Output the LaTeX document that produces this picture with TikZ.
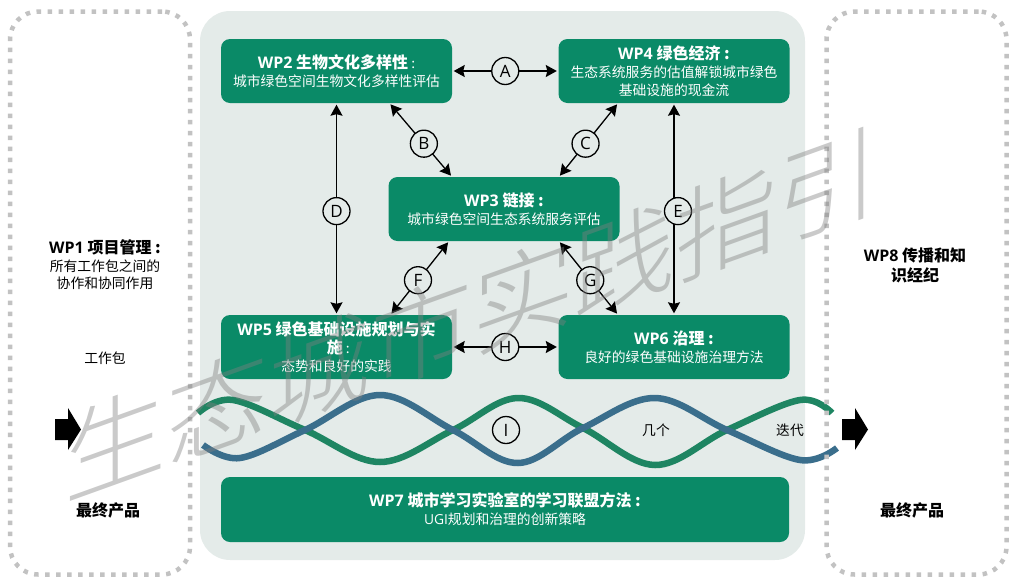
\documentclass[tikz,border=0pt]{standalone}
\usepackage{fontspec}
\setmainfont{Noto Sans CJK SC}
\newfontfamily\markfont{Noto Sans CJK SC Light}
\newfontfamily\latinfont{Open Sans}
\usetikzlibrary{arrows.meta}
\definecolor{panelgray}{HTML}{E4EBE9}
\definecolor{wpgreen}{HTML}{0A8A67}
\definecolor{strandgreen}{HTML}{1E8562}
\definecolor{strandblue}{HTML}{3A6E8C}
\definecolor{dotgray}{HTML}{C2C2C2}
\tikzset{
    wpbox/.style={fill=wpgreen,rounded corners=9pt,text=white,align=center,minimum width=231pt,minimum height=64pt,inner sep=0pt,font=\fontsize{13.8}{18}\selectfont},
    framebox/.style={draw=dotgray,line width=4.5pt,dash pattern=on 4.5pt off 6.5pt,rounded corners=28pt,minimum width=180pt,minimum height=563pt},
    badge/.style={circle,draw,line width=1.3pt,fill=panelgray,minimum size=27pt,inner sep=0pt,font=\latinfont\fontsize{17}{17}\selectfont},
    pair/.style={{Stealth[length=11pt,width=12pt,inset=1.5pt]}-{Stealth[length=11pt,width=12pt,inset=1.5pt]},line width=1.3pt,shorten <=1.5pt,shorten >=1.5pt},
    strand/.style={line width=6.5pt},
    plain/.style={align=center,font=\fontsize{13.8}{17.5}\selectfont},
    heading/.style={align=center,font=\bfseries\fontsize{16}{19.5}\selectfont},
    blockarrow/.style={fill=black},
}
\newcommand{\wptitle}[2]{{\bfseries\fontsize{16}{19.5}\selectfont{\latinfont #1} #2}}
\begin{document}
\begin{tikzpicture}[x=1pt,y=-1pt]
\useasboundingbox (0,0) rectangle (1015,587);
\fill[panelgray,rounded corners=30pt] (200,11) rectangle (805,560);
\node[wpbox] (wp2) at (336.5,71) {\wptitle{WP2}{生物文化多样性} :\\城市绿色空间生物文化多样性评估};
\node[wpbox] (wp4) at (674,71) {\wptitle{WP4}{绿色经济 :}\\生态系统服务的估值解锁城市绿色\\基础设施的现金流};
\node[wpbox] (wp3) at (504,209) {\wptitle{WP3}{链接 :}\\城市绿色空间生态系统服务评估};
\node[wpbox] (wp5) at (336.5,347) {\wptitle{WP5}{绿色基础设施规划与实}\\\wptitle{}{施} :\\态势和良好的实践};
\node[wpbox] (wp6) at (674,347) {\wptitle{WP6}{治理 :}\\良好的绿色基础设施治理方法};
\node[wpbox,minimum width=568pt,minimum height=65pt] (wp7) at (505,509.5) {\wptitle{WP7}{城市学习实验室的学习联盟方法 :}\\{\latinfont UGI}规划和治理的创新策略};
\draw[pair] (wp2) -- node[badge] (a) {A} (wp4);
\draw[pair] ([xshift=53pt]wp2.south) -- node[badge,pos=.55] (b) {B} ([xshift=-52pt]wp3.north);
\draw[pair] ([xshift=-56pt]wp4.south) -- node[badge,pos=.55] (c) {C} ([xshift=55pt]wp3.north);
\draw[pair] (wp2) -- node[badge,pos=.51] (d) {D} (wp5);
\draw[pair] (wp4) -- node[badge,pos=.51,xshift=4pt] (e) {E} (wp6);
\draw[pair] ([xshift=-55pt]wp3.south) -- node[badge,pos=.53] (f) {F} ([xshift=54pt]wp5.north);
\draw[pair] ([xshift=55pt]wp3.south) -- node[badge,pos=.53] (g) {G} ([xshift=-56pt]wp6.north);
\draw[pair] (wp5) -- node[badge] (h) {H} (wp6);
\draw[strand,strandgreen] plot[smooth,tension=.6] coordinates {(198,413) (233,400) (305,430) (380,462) (453,430) (518,398) (583,428) (655,465) (727,430) (800,400) (832,413)};
\draw[strand,strandblue] plot[smooth,tension=.6] coordinates {(203,445) (240,458) (305,430) (380,395) (453,430) (518,463) (583,428) (655,398) (727,430) (800,460) (837,448)};
\node[badge,fill=none] (i) at (506,430) {I};
\node[plain] (several) at (656,430) {几个};
\node[plain] (iterate) at (790,430) {迭代};
\node[framebox] (wp1frame) at (100,293) {};
\node[framebox] (wp8frame) at (916.5,293) {};
\node[plain] (wp1) at (105,265) {\wptitle{WP1}{项目管理 :}\\所有工作包之间的\\协作和协同作用};
\node[plain] (packages) at (105,358) {工作包};
\node[heading] (wp8) at (915,265.5) {{\latinfont WP8} 传播和知\\识经纪};
\node[heading] (output1) at (108,510) {最终产品};
\node[heading] (output2) at (912,510) {最终产品};
\fill[blockarrow] (55,419) -- (68,419) -- (68,408) -- (81,429.5) -- (68,450) -- (68,440) -- (55,440) -- cycle;
\fill[blockarrow] (842,419) -- (855,419) -- (855,408) -- (868,429.5) -- (855,450) -- (855,440) -- (842,440) -- cycle;
\node[yslant=.36,transform shape,text=gray,opacity=.42,inner sep=0pt] (stamp) at (472,314) {\markfont\fontsize{102}{102}\selectfont 生态城市实践指引};
\end{tikzpicture}
\end{document}
